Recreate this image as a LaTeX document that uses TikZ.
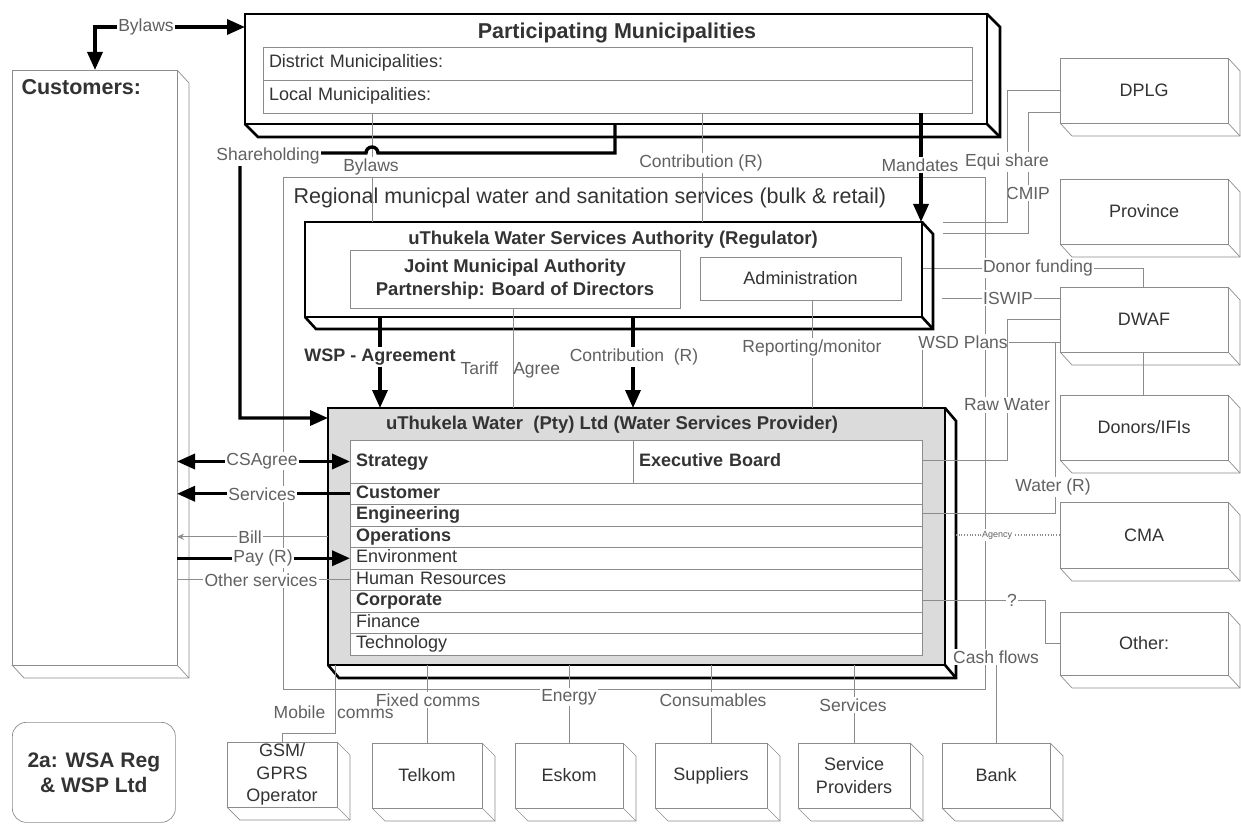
\documentclass[tikz,border=0pt]{standalone}
\usepackage{fontspec}
\setmainfont{Liberation Sans}
\usetikzlibrary{arrows.meta,calc,backgrounds}

\definecolor{LineGray}{gray}{0.55}
\definecolor{LabelGray}{gray}{0.38}
\definecolor{InkGray}{gray}{0.2}
\definecolor{FrameShade}{gray}{0.86}

% depth faces of a box node: node, dx, dy
\newcommand{\DrawDepth}[4][]{%
  \draw[#1] (#2.north east) -- ++(#3,#4)
    -- ($(#2.south east)+(#3,#4)$) -- ($(#2.south west)+(#3,#4)$)
    -- (#2.south west);
  \draw[#1] (#2.south east) -- ++(#3,#4);}

\tikzset{
  slab/.style     = {draw=LineGray, line width=0.7pt, fill=white,
                     anchor=north west, inner sep=0pt, outer sep=0pt,
                     text=InkGray, align=center,
                     font=\fontsize{18}{22.5}\selectfont},
  heavy/.style    = {draw=black, line width=2.6pt, fill=white,
                     anchor=north west, inner sep=0pt, outer sep=0pt},
  cell/.style     = {draw=LineGray, line width=0.6pt, fill=white,
                     anchor=north west, inner sep=0pt, outer sep=0pt,
                     text=InkGray},
  row/.style      = {cell, minimum width=572pt, minimum height=21.5pt,
                     text width=560pt, align=left, inner xsep=6pt,
                     text height=13pt, text depth=4pt,
                     font=\fontsize{18}{20}\selectfont},
  head/.style     = {text=InkGray, font=\bfseries\fontsize{18.5}{22}\selectfont},
  lbl/.style      = {text=LabelGray, fill=white, inner sep=1.5pt,
                     font=\fontsize{17.5}{19}\selectfont},
  wire/.style     = {draw=LineGray, line width=0.7pt},
  heavyline/.style= {draw=black, line width=2.6pt},
  flow/.style     = {draw=black, line width=3.4pt,
                     -{Triangle[length=18pt,width=15pt]}},
  flowboth/.style = {draw=black, line width=3.4pt,
                     {Triangle[length=18pt,width=15pt]}-{Triangle[length=18pt,width=15pt]}}
}

\begin{document}
\begin{tikzpicture}[x=1pt, y=-1pt]
  \useasboundingbox (0,0) rectangle (1241,826);

% regional frame

\node[draw=LineGray, line width=0.7pt, anchor=north west, inner sep=0pt,
      outer sep=0pt, minimum width=702pt, minimum height=512pt] (reg) at (283,177) {};
\node[anchor=base west, text=InkGray, font=\fontsize{21.5}{24}\selectfont]
      (regT) at (290,204) {Regional municpal water and sanitation services (bulk \& retail)};

% participating municipalities

\node[heavy, minimum width=742pt, minimum height=110pt] (pm) at (245,14) {};
\node[head, font=\bfseries\fontsize{21.5}{24}\selectfont] (pmT) at (617,33) {Participating Municipalities};
\node[row, minimum width=709pt, text width=697pt, minimum height=33pt] (pmDist) at (263,47) {District Municipalities:};
\node[row, minimum width=709pt, text width=697pt, minimum height=33pt] (pmLocal) at (263,80) {Local Municipalities:};

% customers

\node[slab, minimum width=165pt, minimum height=595pt] (cu) at (12,70) {};
\node[head, anchor=base west, font=\bfseries\fontsize{21.5}{24}\selectfont] (cuT) at (18,95) {Customers:};

% water services authority

\node[heavy, minimum width=617pt, minimum height=95pt] (wsa) at (305,222) {};
\node[head] (wsaT) at (613,240) {uThukela Water Services Authority (Regulator)};
\node[cell, minimum width=330pt, minimum height=58pt, align=center,
      font=\bfseries\fontsize{18.5}{23}\selectfont] (jma) at (350,250)
      {Joint Municipal Authority\\Partnership: Board of Directors};
\node[cell, minimum width=201pt, minimum height=43pt,
      font=\fontsize{18}{20}\selectfont] (adm) at (700,257) {Administration};

% water services provider

\node[heavy, fill=FrameShade, minimum width=617pt, minimum height=257pt] (wsp) at (328,408) {};
\node[head] (wspT) at (612,425) {uThukela Water\ \ (Pty) Ltd (Water Services Provider)};
\node[row, minimum width=283pt, text width=271pt, minimum height=43pt] (rStrat) at (350,440) {\textbf{Strategy}};
\node[row, minimum width=289pt, text width=277pt, minimum height=43pt] (rExec) at (633,440) {\textbf{Executive Board}};
\node[row] (rCust) at (350,483) {\textbf{Customer}};
\node[row] (rEng)  at (350,504.5) {\textbf{Engineering}};
\node[row] (rOps)  at (350,526) {\textbf{Operations}};
\node[row] (rEnv)  at (350,547.5) {Environment};
\node[row] (rHR)   at (350,569) {Human Resources};
\node[row] (rCorp) at (350,590.5) {\textbf{Corporate}};
\node[row] (rFin)  at (350,612) {Finance};
\node[row] (rTech) at (350,633.5) {Technology};

% right column

\node[slab, minimum width=168pt, minimum height=65pt] (dplg)     at (1060,58)  {DPLG};
\node[slab, minimum width=168pt, minimum height=65pt] (province) at (1060,179) {Province};
\node[slab, minimum width=168pt, minimum height=65pt] (dwaf)     at (1060,287) {DWAF};
\node[slab, minimum width=168pt, minimum height=65pt] (donors)   at (1060,395) {Donors/IFIs};
\node[slab, minimum width=168pt, minimum height=66pt] (cma)      at (1060,502) {CMA};
\node[slab, minimum width=168pt, minimum height=63pt] (other)    at (1060,612) {Other:};

% bottom row

\node[slab, minimum width=110pt, minimum height=65pt] (gsm)       at (227,742) {GSM/\\GPRS\\Operator};
\node[slab, minimum width=110pt, minimum height=65pt] (telkom)    at (372,743) {Telkom};
\node[slab, minimum width=108pt, minimum height=65pt] (eskom)     at (515,743) {Eskom};
\node[slab, minimum width=112pt, minimum height=65pt] (suppliers) at (655,743) {Suppliers};
\node[slab, minimum width=112pt, minimum height=65pt] (sprov)     at (798,743) {Service\\Providers};
\node[slab, minimum width=108pt, minimum height=65pt] (bank)      at (942,743) {Bank};

\node[draw=LineGray, line width=0.7pt, rounded corners=14pt, anchor=north west,
      minimum width=163pt, minimum height=100pt, inner sep=0pt, align=center,
      text=InkGray, font=\bfseries\fontsize{21}{25}\selectfont] (tag) at (12,722)
      {2a: WSA Reg\\\& WSP Ltd};

% depth of the boxes

\DrawDepth[heavyline]{pm}{13}{13}
\DrawDepth[heavyline]{wsa}{11}{12}
\DrawDepth[heavyline]{wsp}{11}{13}
\DrawDepth[wire]{cu}{12}{13}
\DrawDepth[wire]{dplg}{12}{13}
\DrawDepth[wire]{province}{12}{13}
\DrawDepth[wire]{dwaf}{12}{13}
\DrawDepth[wire]{donors}{12}{13}
\DrawDepth[wire]{cma}{12}{13}
\DrawDepth[wire]{other}{12}{13}
\DrawDepth[wire]{gsm}{13}{13}
\DrawDepth[wire]{telkom}{13}{13}
\DrawDepth[wire]{eskom}{13}{13}
\DrawDepth[wire]{suppliers}{13}{13}
\DrawDepth[wire]{sprov}{13}{13}
\DrawDepth[wire]{bank}{13}{13}

% municipalities - authority

\coordinate (byA) at (95,27);
\draw[flowboth] (cu.north -| byA) -- (byA) -- (pm.west |- byA);
\node[lbl] (byL) at (146,27) {Bylaws};

\coordinate (blX) at (372,0);
\draw[wire] (pmLocal.south -| blX) -- (wsa.north -| blX);
\node[lbl] (blL) at (371,167) {Bylaws};

\coordinate (ctX) at (702,0);
\draw[wire] (pmLocal.south -| ctX) -- (wsa.north -| ctX);
\node[lbl] (ctL) at (701,163) {Contribution (R)};

\coordinate (shA) at (615,153);
\coordinate (shJ) at (378,153);
\coordinate (shB) at (240,153);
\coordinate (shC) at (240,418);
\draw[flow] (pm.south -| shA) -- (shA) -- (shJ)
  arc[start angle=0, end angle=180, radius=6pt] -- (shB) -- (shC) -- (wsp.west |- shC);
\node[lbl] (shL) at (268,156) {Shareholding};

\coordinate (mdX) at (921,0);
\draw[flow] (pmLocal.south -| mdX) -- (wsa.north -| mdX);
\node[lbl] (mdL) at (920,165) {Mandates};

% right column links

\coordinate (cmA) at (1028,112);
\coordinate (cmB) at (1028,233);
\coordinate (cmC) at (943,233);
\draw[wire] (dplg.west |- cmA) -- (cmA) -- (cmB) -- (cmC);
\node[lbl] (cmL) at (1028,193) {CMIP};

\coordinate (eqA) at (1007,90);
\coordinate (eqB) at (1007,222);
\coordinate (eqC) at (943,222);
\draw[wire] (dplg.west |- eqA) -- (eqA) -- (eqB) -- (eqC);
\node[lbl] (eqL) at (1007,162) {Equi share};

\coordinate (dfA) at (1143,268);
\begin{pgfonlayer}{background}
\draw[wire] (donors.north -| dfA) -- (dfA) -- (wsa.east |- dfA);
\end{pgfonlayer}
\node[lbl] (dfL) at (1038,268) {Donor funding};

\coordinate (isA) at (942,298);
\draw[wire] (isA) -- (dwaf.west |- isA);
\node[lbl] (isL) at (1008,298) {ISWIP};

\coordinate (wsdA) at (922,342);
\draw[wire] (wsp.north -| wsdA) -- (wsdA) -- (dwaf.west |- wsdA);
\node[lbl] (wsdL) at (963,342) {WSD Plans};

\coordinate (rwB) at (1007,460);
\coordinate (rwC) at (923,460);
\draw[wire] (dwaf.west) -| (rwB) -- (rwC);
\node[lbl] (rwL) at (1007,405) {Raw Water};

\coordinate (wtA) at (1055,342);
\coordinate (wtB) at (1055,513);
\coordinate (wtC) at (923,513);
\draw[wire] (wtA) -- (wtB) -- (wtC);
\node[lbl] (wtL) at (1053,487) {Water (R)};

\coordinate (agA) at (956,535);
\draw[wire, dotted, line width=1.1pt] (agA) -- (cma.west);
\node[lbl, font=\fontsize{9}{10}\selectfont] (agL) at (997,535) {Agency};

\coordinate (qA) at (923,600);
\coordinate (qB) at (1045,600);
\draw[wire] (qA) -- (qB) |- (other.west);
\node[lbl] (qL) at (1012,600) {?};

\node[lbl] (cfL) at (996,657) {Cash flows};
\draw[wire] (bank.north) -- (cfL.south);

% customers - provider

\draw[flowboth] (cu.east |- rStrat) -- (rStrat.west);
\node[lbl] (csL) at (262,461) {CSAgree};

\draw[flow] (rCust.west) -- (cu.east |- rCust);
\node[lbl] (svL) at (262,494) {Services};

\draw[wire, -{Stealth[length=7pt,width=6pt]}] (wsp.west |- rOps) -- (cu.east |- rOps);
\node[lbl] (biL) at (250,537) {Bill};

\draw[flow] (cu.east |- rEnv) -- (rEnv.west);
\node[lbl] (paL) at (263,558) {Pay (R)};

\draw[wire] (cu.east |- rHR) -- (rHR.west);
\node[lbl] (osL) at (261,580) {Other services};

% authority - provider

\coordinate (waX) at (380,0);
\draw[flow] (wsa.south -| waX) -- (wsp.north -| waX);
\node[lbl, text=InkGray, font=\bfseries\fontsize{18}{20}\selectfont] (waL) at (380,357) {WSP - Agreement};

\coordinate (tfX) at (513,0);
\draw[wire] (jma.south -| tfX) -- (wsp.north -| tfX);
\node[lbl, fill=none, anchor=west] (tfL) at (459,370) {Tariff\hspace{15pt}Agree};

\coordinate (cbX) at (633,0);
\draw[flow] (wsa.south -| cbX) -- (wsp.north -| cbX);
\node[lbl] (cbL) at (634,357) {Contribution\ \ (R)};

\coordinate (rpX) at (812,0);
\draw[wire] (adm.south -| rpX) -- (wsp.north -| rpX);
\node[lbl] (rpL) at (812,348) {Reporting/monitor};

% provider - suppliers

\coordinate (mbA) at (335,733);
\draw[wire] (wsp.south -| mbA) -- (mbA) -| (gsm.north);
\node[lbl, fill=none, anchor=west] (mbL) at (272,712) {Mobile\hspace{12pt}comms};

\draw[wire] (wsp.south -| telkom.north) -- (telkom.north);
\node[lbl] (fcL) at (428,700) {Fixed comms};

\draw[wire] (wsp.south -| eskom.north) -- (eskom.north);
\node[lbl] (enL) at (569,697) {Energy};

\draw[wire] (wsp.south -| suppliers.north) -- (suppliers.north);
\node[lbl] (coL) at (713,700) {Consumables};

\draw[wire] (wsp.south -| sprov.north) -- (sprov.north);
\node[lbl] (seL) at (853,705) {Services};

\end{tikzpicture}
\end{document}
